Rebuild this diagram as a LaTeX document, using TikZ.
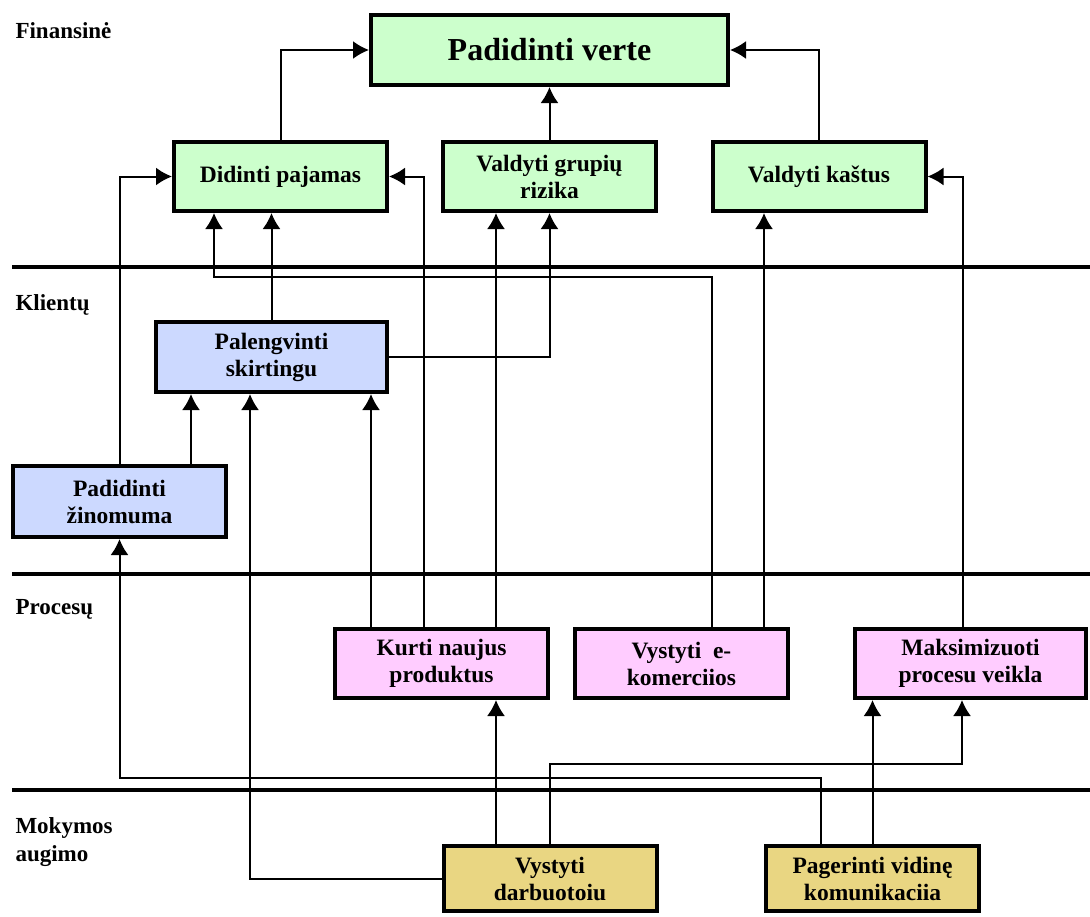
\documentclass[tikz,border=0pt]{standalone}
\usepackage{fontspec}
\setmainfont{Liberation Serif}
\usetikzlibrary{arrows.meta,positioning}

\definecolor{finfill}{RGB}{204,255,204}
\definecolor{klifill}{RGB}{204,217,255}
\definecolor{profill}{RGB}{255,204,255}
\definecolor{mokfill}{RGB}{233,214,130}

\begin{document}
\begin{tikzpicture}[x=1pt, y=-1pt,
		goal/.style={draw, line width=4pt, minimum width=213pt, minimum height=69pt, align=center, inner sep=2pt, font=\fontsize{23.5}{27}\selectfont\bfseries},
		fin/.style={goal, fill=finfill},
		kli/.style={goal, fill=klifill},
		pro/.style={goal, fill=profill},
		mok/.style={goal, fill=mokfill},
		lane/.style={anchor=west, align=left, font=\fontsize{23}{28}\selectfont\bfseries},
		bar/.style={line width=4pt},
		link/.style={line width=2pt, -{Latex[length=16pt, width=18pt]}},
	]
		\useasboundingbox (0,0) rectangle (1090,916);

		% perspektyvos
		\node (lfin) [lane] at (12,31) {Finansinė};
		\node (lkli) [lane] at (12,305) {Klientų};
		\node (lpro) [lane] at (12,609) {Procesų};
		\node (lmok) [lane] at (12,842) {Mokymos\\augimo};
		\draw[bar] (12,267) -- (1090,267);
		\draw[bar] (12,574) -- (1090,574);
		\draw[bar] (12,790) -- (1090,790);

		% tikslai
		\node (pv) [fin, minimum width=357pt, minimum height=70pt, font=\fontsize{32}{36}\selectfont\bfseries] at (549.5,50) {Padidinti verte};
		\node (dp) [fin] at (280.5,176.5) {Didinti pajamas};
		\node (vg) [fin] at (549.5,176.5) {Valdyti grupių\\rizika};
		\node (vk) [fin] at (819,176.5) {Valdyti kaštus};
		\node (ps) [kli, minimum width=231pt, minimum height=70pt] at (271.5,357) {Palengvinti\\skirtingu};
		\node (pz) [kli, minimum height=71pt] at (119.5,501.5) {Padidinti\\žinomuma};
		\node (kn) [pro] at (441.5,663.5) {Kurti naujus\\produktus};
		\node (ve) [pro] at (681.5,663.5) {Vystyti~~e-\\komerciios};
		\node (mp) [pro, minimum width=231pt] at (970.5,663.5) {Maksimizuoti\\procesu veikla};
		\node (vd) [mok, minimum height=65pt] at (550,878.5) {Vystyti\\darbuotoiu};
		\node (pk) [mok, minimum height=65pt] at (872.5,878.5) {Pagerinti vidinę\\komunikaciia};

		\draw[link] (dp.north) |- (pv.west);
		\draw[link] (vg.north) -- (pv.south);
		\draw[link] (vk.north) |- (pv.east);
		\draw[link] (pz.north) |- (dp.west);
		\draw[link] ([xshift=71.5pt]pz.north) -- ([xshift=71.5pt]pz.north |- ps.south);
		\draw[link] (ps.north) -- (ps.north |- dp.south);
		\draw[link] (ps.east) -| (vg.south);
		\draw[link] ([xshift=30.5pt]ve.north) -- ++(0,-350) -| ([xshift=-66.5pt]dp.south);
		\draw[link] ([xshift=-17.5pt]kn.north) |- (dp.east);
		\draw[link] ([xshift=-70.5pt]kn.north) -- ([xshift=-70.5pt]kn.north |- ps.south);
		\draw[link] ([xshift=54.5pt]kn.north) -- ([xshift=54.5pt]kn.north |- vg.south);
		\draw[link] ([xshift=82.5pt]ve.north) -- ([xshift=82.5pt]ve.north |- vk.south);
		\draw[link] ([xshift=-7.5pt]mp.north) |- (vk.east);
		\draw[link] (vd.west) -| ([xshift=-21.5pt]ps.south);
		\draw[link] ([xshift=-51.5pt]pk.north) -- ++(0,-66) -| (pz.south);
		\draw[link] ([xshift=-54pt]vd.north) -- ([xshift=-54pt]vd.north |- kn.south);
		\draw[link] (vd.north) -- ++(0,-80) -| ([xshift=-8.5pt]mp.south);
		\draw[link] (pk.north) -- (pk.north |- mp.south);
	\end{tikzpicture}
\end{document}
